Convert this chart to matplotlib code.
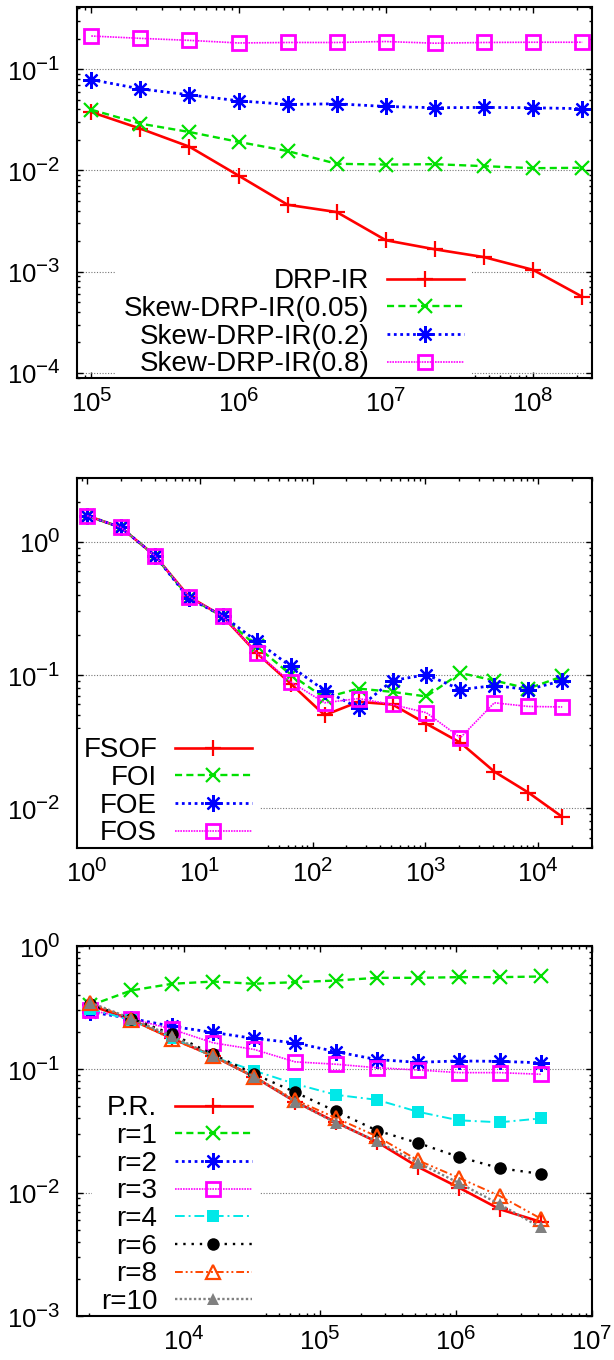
import numpy as np
import matplotlib
matplotlib.use("Agg")
import matplotlib.pyplot as plt
import matplotlib._mathtext as _mt
from matplotlib.ticker import LogLocator, LogFormatterSciNotation, NullFormatter

_mt.SHRINK_FACTOR = 0.8

plt.rcParams['font.family'] = ['Liberation Sans', 'DejaVu Sans']
plt.rcParams['mathtext.fontset'] = 'custom'
plt.rcParams['mathtext.rm'] = 'Liberation Sans'
plt.rcParams['mathtext.default'] = 'regular'

# ---------------- Panel 1 data ----------------
p1_x = [1e5, 2.154e5, 4.642e5, 1e6, 2.154e6, 4.642e6, 1e7, 2.154e7, 4.642e7, 1e8, 2.154e8]
p1_drp = [0.0376, 0.0258, 0.0171, 0.00887, 0.00457, 0.00387, 0.00204, 0.00166, 0.00139, 0.00104, 0.000565]
p1_s005 = [0.0397, 0.0289, 0.0239, 0.0191, 0.0155, 0.0116, 0.0114, 0.0115, 0.0110, 0.0105, 0.0106]
p1_s02 = [0.0786, 0.0637, 0.0556, 0.0486, 0.0447, 0.0454, 0.0427, 0.0415, 0.0418, 0.0415, 0.0406]
p1_s08 = [0.212, 0.201, 0.192, 0.181, 0.183, 0.183, 0.187, 0.180, 0.183, 0.184, 0.184]
p1_labels = ['DRP-IR', 'Skew-DRP-IR(0.05)', 'Skew-DRP-IR(0.2)', 'Skew-DRP-IR(0.8)']

# ---------------- Panel 2 data ----------------
p2_x = [1, 2, 4, 8, 16, 32, 64, 128, 256, 512, 1024, 2048, 4096, 8192, 16384]
p2_fsof = [1.57, 1.28, 0.786, 0.388, 0.275, 0.146, 0.0861, 0.0499, 0.0628, 0.060, 0.043, 0.031, 0.0188, 0.0131, 0.0086]
p2_foi = [1.57, 1.28, 0.786, 0.380, 0.275, 0.164, 0.1005, 0.0673, 0.079, 0.0746, 0.0689, 0.1035, 0.0908, 0.079, 0.0975]
p2_foe = [1.57, 1.28, 0.786, 0.375, 0.278, 0.179, 0.116, 0.0764, 0.0566, 0.0908, 0.1005, 0.0777, 0.0832, 0.0777, 0.0905]
p2_fos = [1.57, 1.28, 0.786, 0.388, 0.275, 0.146, 0.0887, 0.0618, 0.0665, 0.060, 0.052, 0.0338, 0.0618, 0.058, 0.0575]
p2_labels = ['FSOF', 'FOI', 'FOE', 'FOS']

# ---------------- Panel 3 data ----------------
p3_x = [2048, 4096, 8192, 16384, 32768, 65536, 131072, 262144, 524288, 1048576, 2097152, 4194304]
p3_pr = [0.33, 0.253, 0.178, 0.128, 0.087, 0.0548, 0.0372, 0.0258, 0.0162, 0.011, 0.00734, 0.0058]
p3_r1 = [0.33, 0.436, 0.494, 0.515, 0.494, 0.509, 0.525, 0.552, 0.552, 0.559, 0.559, 0.566]
p3_r2 = [0.292, 0.258, 0.223, 0.199, 0.178, 0.164, 0.139, 0.120, 0.114, 0.117, 0.116, 0.113]
p3_r3 = [0.301, 0.258, 0.211, 0.164, 0.145, 0.115, 0.110, 0.103, 0.0988, 0.094, 0.094, 0.0912]
p3_r4 = [0.310, 0.250, 0.181, 0.126, 0.0976, 0.0762, 0.0621, 0.0566, 0.0453, 0.0386, 0.0372, 0.040]
p3_r6 = [0.336, 0.258, 0.193, 0.132, 0.0917, 0.0653, 0.0456, 0.0319, 0.0253, 0.0195, 0.0158, 0.0142]
p3_r8 = [0.345, 0.253, 0.175, 0.128, 0.0873, 0.0566, 0.0403, 0.0286, 0.0183, 0.0132, 0.0094, 0.00617]
p3_r10 = [0.348, 0.258, 0.186, 0.128, 0.087, 0.0548, 0.0367, 0.0261, 0.0175, 0.0120, 0.00805, 0.00522]
p3_labels = ['P.R.', 'r=1', 'r=2', 'r=3', 'r=4', 'r=6', 'r=8', 'r=10']

# ---------------- styles ----------------
RED = '#ff0000'
GREEN = '#00e000'
BLUE = '#0000ff'
MAG = '#ff00ff'
CYAN = '#00e8e8'
BLACK = '#000000'
ORANGE = '#ff4500'
GRAY = '#808080'

LW = 1.7
MEW = 1.6
styles = {
    'red': dict(color=RED, ls='-', marker='+', ms=12, mew=MEW, lw=LW + 0.2),
    'green': dict(color=GREEN, ls=(0, (3, 1.8)), marker='x', ms=10, mew=MEW, lw=LW),
    'blue': dict(color=BLUE, ls=(0, (1, 1.3)), marker=(8, 2, 0), ms=12, mew=MEW, lw=LW + 0.3),
    'mag': dict(color=MAG, ls=(0, (1, 0.6)), marker='s', ms=10, mew=MEW + 0.4, lw=LW - 0.5, mfc='none'),
    'cyan': dict(color=CYAN, ls=(0, (5, 2, 1, 2)), marker='s', ms=9, mew=0, lw=LW - 0.3),
    'black': dict(color=BLACK, ls=(0, (1, 2.5)), marker='o', ms=9, mew=0, lw=LW),
    'orange': dict(color=ORANGE, ls=(0, (4, 1.5, 1, 1.5, 1, 1.5)), marker='^', ms=10, mew=MEW, lw=LW - 0.3, mfc='none'),
    'gray': dict(color=GRAY, ls=(0, (1, 1)), marker='^', ms=9, mew=0, lw=LW),
}

W, H = 614, 1360
fig = plt.figure(figsize=(W / 100, H / 100), dpi=100)

FS = 18.5
LFS = 20


def add_axes(top, bottom, left=77, right=592):
    return fig.add_axes([left / W, 1 - bottom / H, (right - left) / W, (bottom - top) / H])


def style_axes(ax):
    ax.set_xscale('log')
    ax.set_yscale('log')
    for s in ax.spines.values():
        s.set_linewidth(1.5)
        s.set_zorder(3)
    ax.tick_params(which='both', direction='in', top=True, right=True, labelsize=FS)
    ax.tick_params(which='major', length=4.5, width=1.0)
    ax.tick_params(which='minor', length=2.5, width=1.0)
    ax.tick_params(axis='x', which='major', pad=8)
    ax.tick_params(axis='y', which='major', pad=12)
    ax.xaxis.set_major_locator(LogLocator(base=10, numticks=20))
    ax.xaxis.set_minor_locator(LogLocator(base=10, subs=np.arange(2, 10), numticks=100))
    ax.yaxis.set_major_locator(LogLocator(base=10, numticks=20))
    ax.yaxis.set_minor_locator(LogLocator(base=10, subs=np.arange(2, 10), numticks=100))
    ax.xaxis.set_major_formatter(LogFormatterSciNotation())
    ax.yaxis.set_major_formatter(LogFormatterSciNotation())
    ax.xaxis.set_minor_formatter(NullFormatter())
    ax.yaxis.set_minor_formatter(NullFormatter())
    ax.grid(True, which='major', axis='y', color='#777777', ls=(0, (1, 1.5)), lw=0.8)
    ax.set_axisbelow(True)


def legend(ax, anchor):
    leg = ax.legend(loc='upper right', bbox_to_anchor=anchor, markerfirst=False,
                    frameon=True, fontsize=LFS, handlelength=2.75,
                    handletextpad=0.65, labelspacing=0.06, borderpad=0.3,
                    borderaxespad=0)
    fr = leg.get_frame()
    fr.set_facecolor('white')
    fr.set_edgecolor('none')
    fr.set_alpha(1)
    leg.set_zorder(2.5)
    return leg


# ---------- Panel 1 ----------
ax1 = add_axes(7, 378)
style_axes(ax1)
ax1.plot(p1_x, p1_drp, label=p1_labels[0], **styles['red'])
ax1.plot(p1_x, p1_s005, label=p1_labels[1], **styles['green'])
ax1.plot(p1_x, p1_s02, label=p1_labels[2], **styles['blue'])
ax1.plot(p1_x, p1_s08, label=p1_labels[3], **styles['mag'])
ax1.set_xlim(8.0e4, 2.51e8)
ax1.set_ylim(8.9e-5, 0.41)
legend(ax1, ((472 - 77) / 515, (378 - 260) / 371))

# ---------- Panel 2 ----------
ax2 = add_axes(478, 848)
style_axes(ax2)
ax2.plot(p2_x, p2_fsof, label=p2_labels[0], **styles['red'])
ax2.plot(p2_x, p2_foi, label=p2_labels[1], **styles['green'])
ax2.plot(p2_x, p2_foe, label=p2_labels[2], **styles['blue'])
ax2.plot(p2_x, p2_fos, label=p2_labels[3], **styles['mag'])
ax2.set_xlim(0.815, 3.01e4)
ax2.set_ylim(0.00502, 3.01)
legend(ax2, ((260 - 77) / 515, (848 - 729) / 370))

# ---------- Panel 3 ----------
ax3 = add_axes(946, 1316)
style_axes(ax3)
keys = ['red', 'green', 'blue', 'mag', 'cyan', 'black', 'orange', 'gray']
series = [p3_pr, p3_r1, p3_r2, p3_r3, p3_r4, p3_r6, p3_r8, p3_r10]
for k, s, lab in zip(keys, series, p3_labels):
    ax3.plot(p3_x, s, label=lab, **styles[k])
ax3.set_xlim(1633, 1e7)
ax3.set_ylim(1e-3, 1)
legend(ax3, ((260 - 77) / 515, (1316 - 1087) / 370))

fig.savefig('out.png', dpi=100)
